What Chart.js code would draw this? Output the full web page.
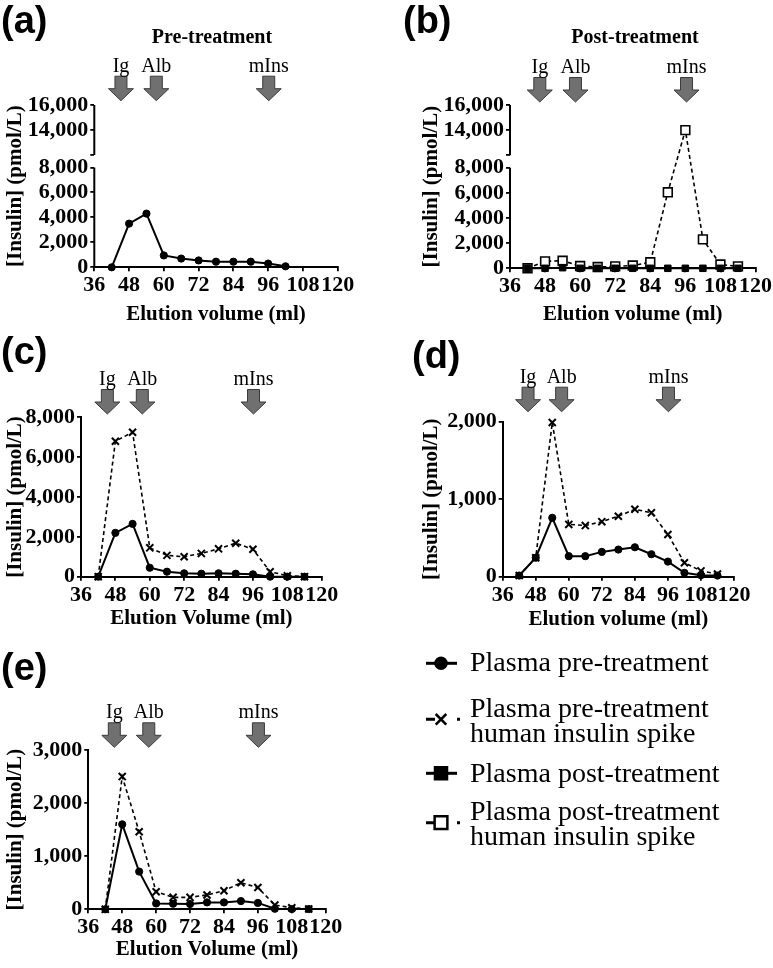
<!DOCTYPE html>
<html>
<head>
<meta charset="utf-8">
<script src="https://cdn.jsdelivr.net/npm/chart.js@4.4.1/dist/chart.umd.min.js"></script>
<style>
  body { margin: 0; background: #fff; }
  #wrap { position: relative; width: 773px; height: 968px; overflow: hidden; }
  #wrap canvas { position: absolute; left: 0; top: 0; }
  .let { position: absolute; font-family: 'Liberation Sans', Arial, sans-serif; font-weight: bold; font-size: 38px; line-height: 1; }
  .ttl { position: absolute; font-family: 'Liberation Serif', 'Times New Roman', serif; font-weight: bold; font-size: 20px; line-height: 1; transform: translateX(-50%); white-space: nowrap; }
  .leg { position: absolute; left: 470px; font-family: 'Liberation Serif', 'Times New Roman', serif; font-size: 28px; line-height: 25px; white-space: nowrap; }
</style>
</head>
<body>
<div id="wrap">
  <canvas id="pa" width="773" height="968"></canvas>
  <canvas id="pb" width="773" height="968"></canvas>
  <canvas id="pc" width="773" height="968"></canvas>
  <canvas id="pd" width="773" height="968"></canvas>
  <canvas id="pe" width="773" height="968"></canvas>
  <canvas id="legSym" width="60" height="210" style="left:410px; top:640px;"></canvas>

  <div class="let" style="left:1px; top:1px;">(a)</div>
  <div class="let" style="left:403px; top:1px;">(b)</div>
  <div class="let" style="left:1px; top:332px;">(c)</div>
  <div class="let" style="left:412px; top:336px;">(d)</div>
  <div class="let" style="left:1px; top:648px;">(e)</div>
  <div class="ttl" style="left:212px; top:26px;">Pre-treatment</div>
  <div class="ttl" style="left:635px; top:26px;">Post-treatment</div>

  <div class="leg" style="top:649px;">Plasma pre-treatment</div>
  <div class="leg" style="top:695px;">Plasma pre-treatment<br>human insulin spike</div>
  <div class="leg" style="top:760px;">Plasma post-treatment</div>
  <div class="leg" style="top:798px;">Plasma post-treatment<br>human insulin spike</div>
</div>
<script>
// elution volumes (ml)
var volA = [42, 48, 54, 60, 66, 72, 78, 84, 90, 96, 102];
var vol = [42, 48, 54, 60, 66, 72, 78, 84, 90, 96, 102, 108, 114];

// [Insulin] pmol/L
var preA = [0, 3500, 4300, 950, 700, 550, 450, 450, 450, 300, 80];
var postB = [0, 0, 50, 0, 0, 0, 0, 0, 0, 0, 0, 0, 0];
var postSpikeB = [0, 550, 600, 180, 100, 150, 220, 480, 6050, 14000, 2300, 300, 150];
var preC = [0, 2200, 2650, 450, 250, 170, 150, 170, 150, 120, 0, 0, 0];
var preSpikeC = [0, 6800, 7250, 1450, 1070, 1000, 1170, 1400, 1680, 1380, 250, 50, 0];
var preD = [15, 245, 760, 265, 265, 320, 350, 380, 290, 195, 50, 20, 15];
var preSpikeD = [15, 245, 1990, 675, 660, 710, 780, 870, 825, 545, 180, 75, 35];
var preE = [0, 1600, 710, 110, 105, 100, 130, 130, 155, 120, 10, 5, 5];
var preSpikeE = [0, 2500, 1460, 330, 225, 225, 270, 350, 500, 410, 80, 30, 5];

// ticks
var xTicks = [36, 48, 60, 72, 84, 96, 108, 120];
var yTicksBroken = [0, 2000, 4000, 6000, 8000, 12000, 14000, 16000];
var yBreak = [8000, 12000, 1000];   // hidden range and its drawn size

// marker positions (ml)
var arrowNames = ['Ig', 'Alb', 'mIns'];
var arrowVol = [45.2, 57.4, 96.2];
var arrowVolB = [46.2, 58.4, 96.4];

var SERIF = "'Liberation Serif', 'Times New Roman', serif";

// linear scale with a gap between yBreak[0] and yBreak[1]
class BrokenScale extends Chart.LinearScale {
    getPixelForValue(value) {
        if (value === null || value === undefined) return NaN;
        var lo = yBreak[0], hi = yBreak[1], gap = yBreak[2];
        var cut = hi - lo - gap;
        var v = value;
        if (value >= hi) v = value - cut;
        else if (value > lo) v = lo + (value - lo) * gap / (hi - lo);
        return this.getPixelForDecimal((v - this.min) / (this.max - cut - this.min));
    }
    getValueForPixel(pixel) {
        var lo = yBreak[0], hi = yBreak[1], gap = yBreak[2];
        var cut = hi - lo - gap;
        var v = this.min + this.getDecimalForPixel(pixel) * (this.max - cut - this.min);
        if (v >= lo + gap) return v + cut;
        if (v > lo) return lo + (v - lo) * (hi - lo) / gap;
        return v;
    }
}
BrokenScale.id = 'broken';
Chart.register(BrokenScale);

var extras = {
    id: 'extras',
    afterDraw: function (chart, args, opts) {
        var ctx = chart.ctx, x = chart.scales.x, y = chart.scales.y;
        ctx.save();
        if (opts.broken) {
            ctx.strokeStyle = '#000';
            ctx.lineWidth = 2;
            ctx.beginPath();
            ctx.moveTo(x.left, y.getPixelForValue(0) + 1);
            ctx.lineTo(x.left, y.getPixelForValue(yBreak[0]));
            ctx.moveTo(x.left, y.getPixelForValue(yBreak[1]));
            ctx.lineTo(x.left, y.getPixelForValue(y.max));
            ctx.stroke();
        }
        opts.pos.forEach(function (p, i) {
            var cx = x.getPixelForValue(p), tip = opts.tip;
            ctx.beginPath();
            ctx.moveTo(cx - 6, tip - 24.5);
            ctx.lineTo(cx + 6, tip - 24.5);
            ctx.lineTo(cx + 6, tip - 12);
            ctx.lineTo(cx + 12.5, tip - 12);
            ctx.lineTo(cx, tip);
            ctx.lineTo(cx - 12.5, tip - 12);
            ctx.lineTo(cx - 6, tip - 12);
            ctx.closePath();
            ctx.fillStyle = '#707070';
            ctx.fill();
            ctx.strokeStyle = '#3a3a3a';
            ctx.lineWidth = 1;
            ctx.stroke();
            ctx.fillStyle = '#000';
            ctx.font = '20px ' + SERIF;
            ctx.textAlign = 'center';
            ctx.textBaseline = 'alphabetic';
            ctx.fillText(arrowNames[i], cx, tip - 29);
        });
        ctx.restore();
    }
};

function pts(xs, ys) {
    return xs.map(function (v, i) { return { x: v, y: ys[i] }; });
}

function sPre(xs, ys) {
    return { data: pts(xs, ys), borderColor: '#000', backgroundColor: '#000', borderWidth: 2,
        pointStyle: 'circle', pointRadius: 3.6, pointBorderWidth: 1, tension: 0, clip: false };
}
function sPreSpike(xs, ys) {
    return { data: pts(xs, ys), borderColor: '#000', backgroundColor: '#000', borderWidth: 1.6,
        borderDash: [4, 3], pointStyle: 'crossRot', pointRadius: 5, pointBorderWidth: 2, tension: 0, clip: false };
}
function sPost(xs, ys) {
    return { data: pts(xs, ys), borderColor: '#000', backgroundColor: '#000', borderWidth: 2,
        pointStyle: 'rect', pointRadius: 4.6, pointBorderWidth: 1, tension: 0, clip: false };
}
function sPostSpike(xs, ys) {
    return { data: pts(xs, ys), borderColor: '#000', backgroundColor: '#fff', borderWidth: 1.6,
        borderDash: [4, 3], pointStyle: 'rect', pointRadius: 6.2, pointBorderWidth: 1.6, tension: 0, clip: false };
}

function panel(id, datasets, o) {
    var lh = 21 * 1.2;
    var yOpts = {
        type: o.broken ? 'broken' : 'linear',
        min: 0, max: o.yMax,
        ticks: { stepSize: o.yStep, color: '#000', padding: 2, autoSkip: false,
            font: { family: SERIF, size: 22, weight: 'bold' },
            callback: function (v) { return v === 12000 && o.broken ? '' : v.toLocaleString('en-US'); } },
        grid: { drawOnChartArea: false, tickLength: 4, color: '#000', lineWidth: 1.8 },
        border: { display: !o.broken, color: '#000', width: 2 },
        title: { display: true, text: '[Insulin] (pmol/L)', color: '#000', padding: 0,
            font: { family: SERIF, size: 21, weight: 'bold' } },
        afterFit: function (s) { s.width = o.left - (o.titleX - lh / 2); }
    };
    if (o.broken) {
        yOpts.afterBuildTicks = function (s) { s.ticks = yTicksBroken.map(function (v) { return { value: v }; }); };
    }
    new Chart(document.getElementById(id), {
        type: 'line',
        data: { datasets: datasets },
        options: {
            responsive: false,
            animation: false,
            events: [],
            layout: { padding: { left: o.titleX - lh / 2, top: o.top, right: 773 - o.right, bottom: 968 - (o.titleY + lh / 2) } },
            plugins: {
                legend: { display: false },
                tooltip: { enabled: false },
                extras: { pos: o.arrows, tip: o.tip, broken: o.broken }
            },
            scales: {
                x: {
                    type: 'linear', min: 36, max: 120,
                    afterBuildTicks: function (s) { s.ticks = xTicks.map(function (v) { return { value: v }; }); },
                    ticks: { color: '#000', padding: 1, autoSkip: false, maxRotation: 0, minRotation: 0,
                        font: { family: SERIF, size: 22, weight: 'bold' } },
                    grid: { drawOnChartArea: false, tickLength: 4, color: '#000', lineWidth: 1.8 },
                    border: { color: '#000', width: 2 },
                    title: { display: true, text: o.xTitle, color: '#000', padding: 0,
                        font: { family: SERIF, size: 21, weight: 'bold' } },
                    afterFit: function (s) { s.height = o.titleY + lh / 2 - o.bottom; }
                },
                y: yOpts
            }
        },
        plugins: [extras]
    });
}

panel('pa', [sPre(volA, preA)],
    { left: 94.3, right: 337.7, top: 105, bottom: 267.3, titleX: 16, titleY: 315, yMax: 16000, broken: true,
      xTitle: 'Elution volume (ml)', arrows: arrowVol, tip: 100.7 });
panel('pb', [sPost(vol, postB), sPostSpike(vol, postSpikeB)],
    { left: 510, right: 755.5, top: 105, bottom: 268.3, titleX: 432, titleY: 315, yMax: 16000, broken: true,
      xTitle: 'Elution volume (ml)', arrows: arrowVolB, tip: 102 });
panel('pc', [sPre(vol, preC), sPreSpike(vol, preSpikeC)],
    { left: 81, right: 321.7, top: 417.3, bottom: 576.7, titleX: 16, titleY: 619, yMax: 8000, yStep: 2000,
      xTitle: 'Elution Volume (ml)', arrows: arrowVol, tip: 414 });
panel('pd', [sPre(vol, preD), sPreSpike(vol, preSpikeD)],
    { left: 502.7, right: 734, top: 421.7, bottom: 576.7, titleX: 432, titleY: 620, yMax: 2000, yStep: 1000,
      xTitle: 'Elution volume (ml)', arrows: arrowVol, tip: 411.7 });
panel('pe', [sPre(vol, preE), sPreSpike(vol, preSpikeE)],
    { left: 88.3, right: 325.7, top: 750, bottom: 909.3, titleX: 16, titleY: 950, yMax: 3000, yStep: 1000,
      xTitle: 'Elution Volume (ml)', arrows: arrowVol, tip: 747.3 });

// legend symbols
(function () {
    var ctx = document.getElementById('legSym').getContext('2d');
    var ox = 410, oy = 640;
    var rows = [
        { y: 663.3, dash: null, style: 'circle', r: 5.5, fill: '#000' },
        { y: 719.3, dash: [9, 22], style: 'crossRot', r: 7.5, fill: '#000' },
        { y: 773.3, dash: null, style: 'rect', r: 8.5, fill: '#000' },
        { y: 822.7, dash: [9, 22], style: 'rect', r: 9, fill: '#fff' }
    ];
    rows.forEach(function (r) {
        var y = r.y - oy;
        ctx.save();
        ctx.strokeStyle = '#000';
        ctx.lineWidth = 3;
        ctx.setLineDash(r.dash || []);
        ctx.beginPath();
        ctx.moveTo(426 - ox, y);
        ctx.lineTo(r.dash ? 460 - ox : 457 - ox, y);
        ctx.stroke();
        ctx.setLineDash([]);
        ctx.fillStyle = r.fill;
        ctx.lineWidth = 2.5;
        Chart.helpers.drawPoint(ctx, { pointStyle: r.style, radius: r.r, rotation: 0, borderWidth: 2.5 }, 441 - ox, y);
        ctx.restore();
    });
})();
</script>
</body>
</html>
